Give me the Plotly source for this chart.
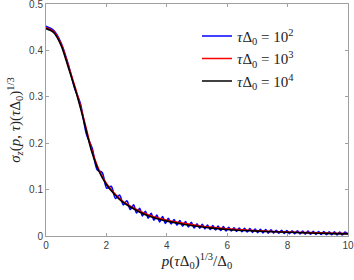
import plotly.graph_objects as go

# --- data ---
x_black = [0, 0.25, 0.5, 0.75, 1.0, 1.25, 1.5, 1.75, 2.0, 2.25, 2.5, 2.75, 3.0, 3.25, 3.5,
           3.75, 4.0, 4.5, 5.0, 5.5, 6.0, 6.5, 7.0, 7.5, 8.0, 8.5, 9.0, 9.5, 10.0]
y_black = [0.447, 0.439, 0.411, 0.361, 0.309, 0.249, 0.185, 0.140, 0.111, 0.091, 0.075,
           0.064, 0.055, 0.047, 0.041, 0.036, 0.032, 0.026, 0.021, 0.017, 0.014, 0.012,
           0.0105, 0.009, 0.008, 0.007, 0.006, 0.0052, 0.0045]

x_red = x_black
y_red = [0.449, 0.441, 0.414, 0.365, 0.313, 0.253, 0.189, 0.143, 0.113, 0.093, 0.077,
         0.066, 0.057, 0.049, 0.043, 0.038, 0.034, 0.028, 0.0225, 0.0185, 0.0155, 0.0133,
         0.0113, 0.0098, 0.0087, 0.0077, 0.0067, 0.0059, 0.0052]

x_blue = [0, 0.25, 0.5, 0.75, 0.95, 1.14, 1.34, 1.53, 1.70, 1.86, 2.01, 2.16, 2.30, 2.44,
          2.56, 2.68, 2.79, 2.90, 3.00, 3.10, 3.195, 3.29, 3.385, 3.48, 3.575, 3.67, 3.765,
          3.86, 3.955, 4.05, 4.145, 4.24, 4.335, 4.43, 4.525, 4.62, 4.715, 4.81, 4.905, 5.00,
          5.0875, 5.175, 5.2625, 5.35, 5.4375, 5.525, 5.6125, 5.70, 5.7875, 5.875, 5.9625,
          6.05, 6.1375, 6.225, 6.3125, 6.40, 6.4875, 6.575, 6.6625, 6.75, 6.8375, 6.925,
          7.0125, 7.10, 7.1875, 7.275, 7.3625, 7.45, 7.5375, 7.625, 7.7125, 7.80, 7.8875,
          7.975, 8.0625, 8.15, 8.2375, 8.325, 8.4125, 8.50, 8.5875, 8.675, 8.7625, 8.85,
          8.9375, 9.025, 9.1125, 9.20, 9.2875, 9.375, 9.4625, 9.55, 9.6375, 9.725, 9.8125,
          9.90, 10.0]
y_blue = [0.452, 0.443, 0.416, 0.367, 0.318, 0.285, 0.219, 0.189, 0.142, 0.137, 0.103,
          0.107, 0.081, 0.088, 0.067, 0.076, 0.057, 0.067, 0.0495, 0.0595, 0.0433, 0.0535,
          0.0383, 0.049, 0.034, 0.0451, 0.0303, 0.0417, 0.0272, 0.0379, 0.0258, 0.0356,
          0.0235, 0.0333, 0.0213, 0.0313, 0.0193, 0.0294, 0.0175, 0.0265, 0.0168, 0.0251,
          0.0154, 0.0237, 0.0140, 0.0224, 0.0128, 0.0213, 0.0118, 0.0202, 0.0107, 0.0186,
          0.0107, 0.0179, 0.0099, 0.0172, 0.0092, 0.0165, 0.0086, 0.0158, 0.0079, 0.0151,
          0.0072, 0.0145, 0.0066, 0.0140, 0.0061, 0.0135, 0.0062, 0.0125, 0.0059, 0.0121,
          0.0055, 0.0118, 0.0052, 0.0114, 0.0048, 0.0111, 0.0045, 0.0107, 0.0041, 0.0104,
          0.0038, 0.0100, 0.0034, 0.0097, 0.0031, 0.0094, 0.0028, 0.0091, 0.0026, 0.0088,
          0.0023, 0.0086, 0.0020, 0.0083, 0.0045]

names = ["<i>τ</i>Δ<sub>0</sub> = 10<sup>2</sup>",
         "<i>τ</i>Δ<sub>0</sub> = 10<sup>3</sup>",
         "<i>τ</i>Δ<sub>0</sub> = 10<sup>4</sup>"]
colors = ["#0000ff", "#ff0000", "#000000"]

x_ticks = [0, 2, 4, 6, 8, 10]
y_ticks = [0, 0.1, 0.2, 0.3, 0.4, 0.5]
y_tick_text = ["0", "0.1", "0.2", "0.3", "0.4", "0.5"]

serif = "Liberation Serif, DejaVu Serif, serif"

fig = go.Figure()
for xs, ys, nm, c in [(x_blue, y_blue, names[0], colors[0]),
                      (x_red, y_red, names[1], colors[1]),
                      (x_black, y_black, names[2], colors[2])]:
    fig.add_trace(go.Scatter(x=xs, y=ys, mode="lines", name=nm,
                             line=dict(color=c, width=1.6, shape="spline", smoothing=0.8)))

axis_common = dict(showgrid=False, zeroline=False, showline=True, mirror="ticks",
                   linecolor="#a0a0a0", linewidth=1, ticks="inside", ticklen=3,
                   tickcolor="#a0a0a0", automargin=False, ticklabeloverflow="allow",
                   tickfont=dict(family="Liberation Sans, Arial", size=10, color="#404040"))

fig.update_layout(
    width=354, height=280,
    margin=dict(l=46, r=6, t=4, b=44),
    paper_bgcolor="white", plot_bgcolor="white",
    showlegend=True,
    legend=dict(x=0.5, y=0.932, xanchor="left", yanchor="top",
                bgcolor="rgba(0,0,0,0)", borderwidth=0,
                font=dict(family=serif, size=15, color="#222222"),
                tracegroupgap=0, itemwidth=30),
    xaxis=dict(range=[0, 10], tickvals=x_ticks, **axis_common,
               title=dict(text="<i>p</i>(<i>τ</i>Δ<sub>0</sub>)<sup>1/3</sup>/Δ<sub>0</sub>",
                          font=dict(family=serif, size=15, color="#222222"),
                          standoff=4)),
    yaxis=dict(range=[0, 0.5], tickvals=y_ticks, ticktext=y_tick_text, **axis_common,
               title=dict(text="<i>σ<sub>z</sub></i>(<i>p</i>, <i>τ</i>)(<i>τ</i>Δ<sub>0</sub>)<sup>1/3</sup>",
                          font=dict(family=serif, size=15, color="#222222"),
                          standoff=4)),
)

fig.write_html("out.html", config={"displayModeBar": False},
               post_script="document.body.style.margin='0';document.body.style.overflow='hidden';")
